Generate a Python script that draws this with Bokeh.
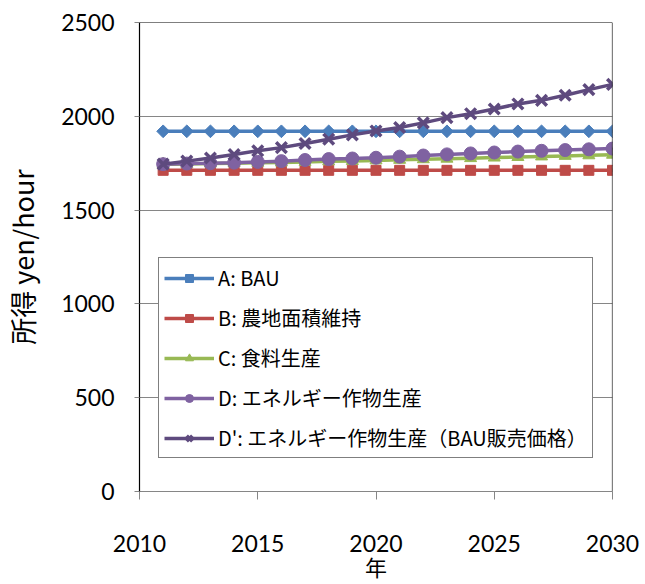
from bokeh.plotting import figure
from bokeh.models import (ColumnDataSource, Range1d, FixedTicker, Legend,
                          LegendItem, Span)
from bokeh.embed import file_html
from bokeh.resources import INLINE
import math

# ---- data -------------------------------------------------------------
years = list(range(2011, 2031))

series_names = [
    "A: BAU",
    "B: 農地面積維持",
    "C: 食料生産",
    "D: エネルギー作物生産",
    "D': エネルギー作物生産（BAU販売価格）",
]

income_a = [1920] * 20
income_b = [1712] * 20
income_c = [1745, 1746, 1748, 1750, 1752, 1754, 1757, 1760, 1762, 1765,
            1768, 1771, 1774, 1777, 1780, 1783, 1786, 1789, 1792, 1795]
income_d = [1745, 1748, 1750, 1753, 1757, 1761, 1767, 1772, 1775, 1779,
            1785, 1791, 1797, 1802, 1807, 1812, 1816, 1820, 1824, 1828]
income_d2 = [1745, 1761, 1778, 1796, 1816, 1833, 1855, 1878, 1901, 1922,
             1940, 1965, 1993, 2014, 2039, 2066, 2085, 2112, 2142, 2170]

x_ticks = [2010, 2015, 2020, 2025, 2030]
y_ticks = [0, 500, 1000, 1500, 2000, 2500]

x_title = "年"
y_title = "所得 yen/hour"

# ---- styles -------------------------------------------------------------
colors = ["#4A7EBB", "#BE4B48", "#98B954", "#7F62A1", "#5E4A7E"]
markers = ["square", "square", "triangle", "circle", "x"]
marker_sizes = [9, 10, 12, 13, 15]
marker_angles = [math.pi / 4, 0, 0, 0, 0]
values = [income_a, income_b, income_c, income_d, income_d2]

p = figure(width=645, height=584, output_backend="svg", toolbar_location=None,
           x_range=Range1d(2010, 2030), y_range=Range1d(0, 2500),
           min_border_left=138, min_border_right=33,
           min_border_top=22, min_border_bottom=92)

p.background_fill_color = "white"
p.border_fill_color = "white"
p.outline_line_color = None

tick_font = "Lato"
cjk_font = "Noto Sans CJK JP"

# x axis
p.xaxis.ticker = FixedTicker(ticks=x_ticks)
p.xaxis.minor_tick_line_color = None
p.xaxis.major_tick_in = 0
p.xaxis.major_tick_out = 8
p.xaxis.axis_line_color = "#868686"
p.xaxis.major_tick_line_color = "#868686"
p.xaxis.major_label_text_font = tick_font
p.xaxis.major_label_text_font_size = "23px"
p.xaxis.major_label_text_color = "black"
p.xaxis.major_label_standoff = 35
p.xaxis.axis_label = x_title
p.xaxis.axis_label_text_font = cjk_font
p.xaxis.axis_label_text_font_size = "22px"
p.xaxis.axis_label_text_font_style = "normal"
p.xaxis.axis_label_text_color = "black"
p.xaxis.axis_label_standoff = -5

# y axis
p.yaxis.ticker = FixedTicker(ticks=y_ticks)
p.yaxis.minor_tick_line_color = None
p.yaxis.major_tick_in = 0
p.yaxis.major_tick_out = 5
p.yaxis.axis_line_color = "black"
p.yaxis.axis_line_width = 1.2
p.yaxis.major_tick_line_color = "#868686"
p.yaxis.major_label_text_font = tick_font
p.yaxis.major_label_text_font_size = "23px"
p.yaxis.major_label_text_color = "black"
p.yaxis.major_label_standoff = 20
p.yaxis.axis_label = y_title
p.yaxis.axis_label_text_font = cjk_font
p.yaxis.axis_label_text_font_size = "27px"
p.yaxis.axis_label_text_font_style = "normal"
p.yaxis.axis_label_text_color = "black"
p.yaxis.axis_label_standoff = 16

p.xgrid.grid_line_color = None
p.ygrid.grid_line_color = "#868686"
p.ygrid.grid_line_width = 1

# plot-area border on top and right
p.add_layout(Span(location=2500, dimension="width", line_color="black", line_width=1.2))
p.add_layout(Span(location=2030, dimension="height", line_color="black", line_width=1.2))

items = []
for name, vals, col, mk, ms, ang in zip(series_names, values, colors,
                                        markers, marker_sizes, marker_angles):
    src = ColumnDataSource(dict(year=years, income=vals))
    ln = p.line("year", "income", source=src, line_color=col, line_width=3.5)
    if mk == "x":
        sc = p.scatter("year", "income", source=src, marker=mk, size=ms,
                       line_color=col, line_width=3.5)
    else:
        sc = p.scatter("year", "income", source=src, marker=mk, size=ms,
                       angle=ang, fill_color=col, line_color=col, line_width=1)
    items.append(LegendItem(label=name, renderers=[ln, sc]))

legend = Legend(items=items, location=(19, 33))
legend.label_text_font = cjk_font
legend.label_text_font_size = "20px"
legend.label_text_color = "black"
legend.glyph_width = 50
legend.glyph_height = 20
legend.label_height = 20
legend.label_standoff = 4
legend.spacing = 11
legend.padding = 5
legend.margin = 0
legend.border_line_color = "black"
legend.border_line_width = 1
legend.background_fill_color = "white"
legend.background_fill_alpha = 1
p.add_layout(legend, "center")

open("out.html", "w").write(file_html(p, INLINE))
